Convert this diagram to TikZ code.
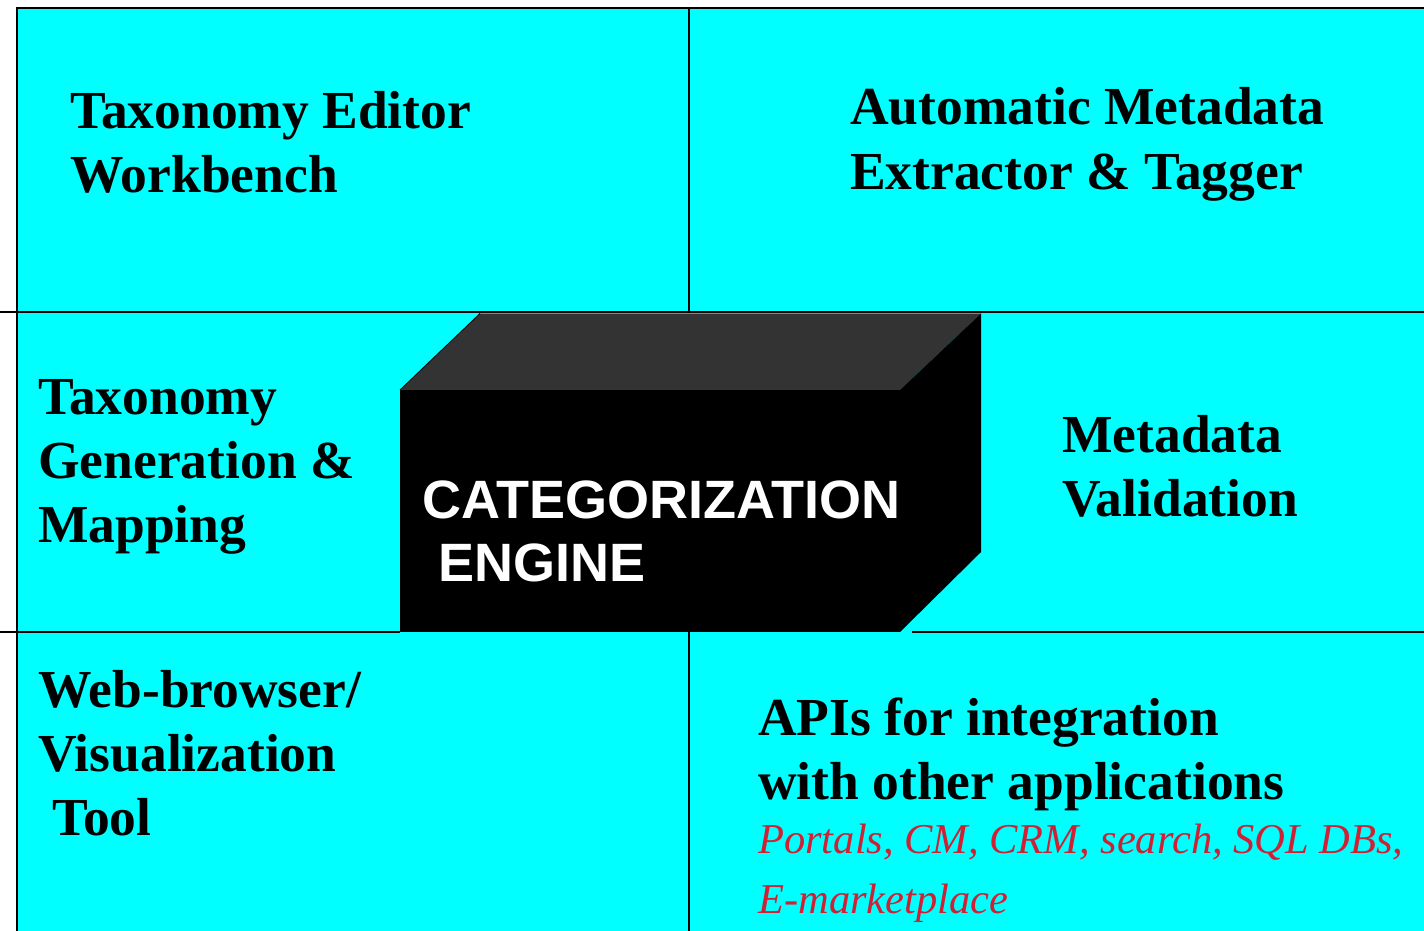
\documentclass[tikz,border=0pt]{standalone}
\usepackage{fontspec}
\setmainfont{Liberation Serif}
\setsansfont{Liberation Sans}
\definecolor{panel}{RGB}{0,255,255}
\definecolor{apired}{RGB}{208,32,52}
\definecolor{topface}{RGB}{51,51,51}

\begin{document}
\begin{tikzpicture}[x=1pt, y=-1pt,
	label/.style={anchor=base west, inner sep=0pt, align=left, font=\fontsize{53.5}{64}\selectfont\bfseries},
	engine/.style={label, text=white, font=\fontsize{54}{63}\selectfont\sffamily\bfseries},
	apps/.style={anchor=base west, inner sep=0pt, align=left, text=apired, font=\fontsize{42.5}{60}\selectfont\itshape},
	rule/.style={line width=2.3pt}]
	\useasboundingbox (0,0) rectangle (1424,931);
	\fill[panel] (17,8) rectangle (1424,931);

	% grid
	\draw[rule] (17,931) -- (17,8) -- (1424,8);
	\draw[rule] (0,312) -- (1424,312);
	\draw[rule] (0,632) -- (400,632);
	\draw[rule] (912,632) -- (1424,632);
	\draw[rule] (689,8) -- (689,312);
	\draw[rule] (689,632) -- (689,931);

	% the engine block
	\fill[topface] (400,390) -- (480,313.5) -- (981,313.5) -- (900,390) -- cycle;
	\fill[black] (900,390) -- (981,313.5) -- (981,552) -- (900,632) -- cycle;
	\fill[black] (400,390) rectangle (900,632);
	\draw[black, line width=0.8pt] (400,390) -- (480,313.5);

	% base = baseline of the last line
	\node[label]	(editor)		at (70,192)		{Taxonomy Editor\\Workbench};
	\node[label]	(extractor)		at (850,189)	{Automatic Metadata\\Extractor \& Tagger};
	\node[label]	(generation)	at (38,542)		{Taxonomy\\Generation \&\\Mapping};
	\node[engine]	(engine)		at (422,581)	{CATEGORIZATION\\\hspace*{16pt}ENGINE};
	\node[label]	(validation)	at (1062,516)	{Metadata\\Validation};
	\node[label]	(browser)		at (38,835)		{Web-browser/\\Visualization\\\hspace*{14pt}Tool};
	\node[label]	(apis)			at (758,799)	{APIs for integration\\with other applications};
	\node[apps]		(apps)			at (758,913)	{Portals, CM, CRM, search, SQL DBs,\\E-marketplace};
\end{tikzpicture}
\end{document}
